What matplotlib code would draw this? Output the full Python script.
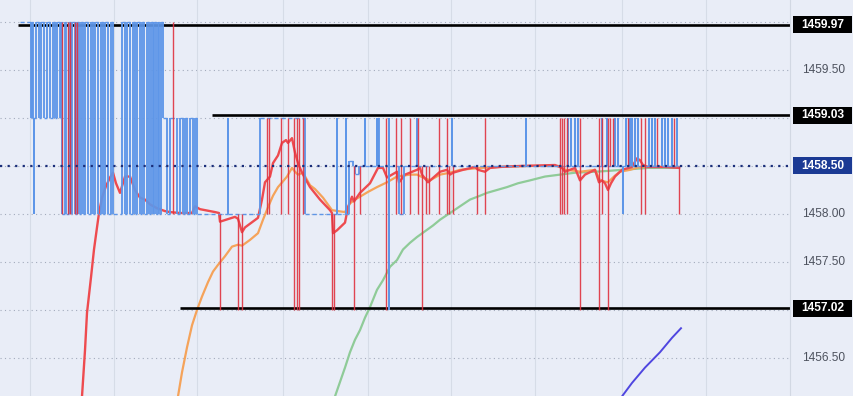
import numpy as np
import matplotlib.pyplot as plt
from matplotlib.patches import Rectangle
from matplotlib.transforms import blended_transform_factory

# tick stream (blue), time in chart units
blue_t = [20, 31, 32, 33, 34, 34.4, 36, 38.7, 41.3, 44, 47.3, 50, 52.7, 54.7, 57.3, 59.7, 61,
          62, 64.7, 66.3, 68.7, 70.7, 72.3, 74.7, 76.7, 78.7, 81.3, 83.3, 85.3, 88, 90.7, 93, 95.3,
          98, 100.7, 103.3, 105.3, 108, 110.7, 113,
          122.3, 125, 127.3, 130, 132.7, 135, 137.3, 140, 142.3, 144.3, 146.7, 149, 150.7, 152.7,
          154.3, 156, 157.7, 159.3, 161, 162.7,
          167, 170, 177, 180, 183, 185, 187, 190, 193, 195, 197,
          228, 228.3, 260, 305, 337, 337.3, 346, 346.3, 349, 353, 355, 359,
          365, 365.3, 377, 377.3, 378.5, 378.8, 389, 389.2, 389.4, 399, 404, 417, 417.3,
          452, 452.3, 526, 526.3,
          568, 568.3, 571, 571.3, 575, 575.3, 578, 578.3, 602, 602.3, 607, 607.3, 615, 615.3,
          618, 618.3, 623, 623.3, 626, 626.3, 629, 629.3, 630.5, 630.8, 632, 632.3, 635, 635.3,
          638, 638.3, 649, 649.3, 652, 652.3, 655, 655.3, 662, 662.3, 665, 665.3, 668, 668.3,
          672, 672.3, 677, 677.3, 680]
blue_p = [1460, 1459, 1460, 1459, 1458, 1459, 1460, 1459, 1460, 1459, 1460, 1459, 1460, 1459, 1460, 1459, 1460,
          1458, 1460, 1458, 1460, 1458, 1460, 1458, 1460, 1458, 1460, 1458, 1460, 1458, 1460, 1458, 1460,
          1458, 1460, 1458, 1460, 1458, 1460, 1458,
          1460, 1458, 1460, 1458, 1460, 1458, 1460, 1458, 1460, 1458, 1460, 1458, 1460, 1458,
          1460, 1458, 1460, 1458, 1460, 1459,
          1458, 1459, 1458, 1459, 1458, 1459, 1458, 1459, 1458, 1459, 1458,
          1459, 1458, 1459, 1458, 1459, 1458, 1459, 1458, 1458.55, 1458.5, 1458.42, 1458.5,
          1459, 1458.5, 1459, 1458.5, 1459, 1458.5, 1459, 1457, 1458.5, 1458, 1458.5, 1459, 1458.5,
          1459, 1458.5, 1459, 1458.5,
          1459, 1458.5, 1459, 1458.5, 1459, 1458.5, 1459, 1458.5, 1459, 1458.5, 1459, 1458.5, 1459, 1458.5,
          1459, 1458.5, 1458, 1458.5, 1459, 1458.5, 1459, 1458.5, 1459, 1458.5, 1459, 1458.5, 1459, 1458.5,
          1459, 1458.5, 1459, 1458.5, 1459, 1458.5, 1459, 1458.5, 1459, 1458.5, 1459, 1458.5, 1459, 1458.5,
          1459, 1458.5, 1459, 1458.5, 1458.5]

# trade spikes (red)
red_t = [62, 68, 70, 75, 77, 173,
         220, 238, 242, 267, 269, 281, 288, 294, 297, 299, 303,
         332, 334, 354, 360, 386, 396, 401, 410, 418, 422,
         426, 429, 439, 447, 449, 453, 477, 485,
         560, 562, 564, 567, 580, 599, 602, 608, 610, 613, 628, 641, 645, 657, 674, 679]
red_lo = [1458, 1458, 1458, 1458, 1458, 1458,
          1457, 1457, 1457, 1458, 1458, 1458, 1458, 1457, 1457, 1457, 1458,
          1457, 1457, 1457, 1458, 1457, 1458, 1458, 1458, 1458, 1457,
          1458, 1458, 1458, 1458, 1458, 1458, 1458, 1458,
          1458, 1458, 1458, 1458, 1457, 1457, 1458, 1457, 1458.5, 1458.5, 1458.5, 1458, 1458, 1458.5, 1458.5, 1458]
red_hi = [1460, 1460, 1460, 1460, 1460, 1460,
          1458, 1458, 1458, 1459, 1459, 1459, 1459, 1459, 1459, 1459, 1459,
          1458, 1458, 1458.5, 1458.5, 1459, 1459, 1459, 1459, 1459, 1458.5,
          1458.5, 1458.5, 1459, 1459, 1458.5, 1458.5, 1458.5, 1459,
          1459, 1459, 1459, 1459, 1459, 1459, 1459, 1459, 1459, 1459, 1459, 1459, 1459, 1459, 1459, 1458.5]

# moving averages
ma_red_t = [82, 85, 87, 91, 94, 97, 99, 102, 106, 110, 113, 116, 120, 125, 130, 135, 140, 145, 150, 157,
            165, 170, 180, 192, 195, 200, 205, 215, 219, 220, 235, 238, 242, 245, 258, 262, 265, 270, 273, 278,
            282, 286, 288, 292, 295, 298, 302, 310, 320, 330, 332, 333, 337, 345, 348, 352, 354, 360, 370, 378,
            383, 387, 397, 399, 405, 417, 420, 422, 428, 440, 447, 450, 453, 463, 475, 478, 485, 490, 500, 520,
            555, 562, 565, 570, 575, 580, 585, 595, 599, 602, 605, 608, 611, 615, 622, 632, 637, 640, 643, 648,
            665, 679]
ma_red = [1456.10, 1456.58, 1456.97, 1457.34, 1457.63, 1457.86, 1458.01, 1458.17, 1458.29, 1458.38,
          1458.43, 1458.32, 1458.22, 1458.39, 1458.39, 1458.25, 1458.17, 1458.15, 1458.10, 1458.06,
          1458.03, 1458.02, 1458.01, 1458.01, 1458.08, 1458.05, 1458.04, 1458.02, 1458.01, 1457.92,
          1457.97, 1457.95, 1457.81, 1457.86, 1457.96, 1458.15, 1458.33, 1458.39, 1458.53, 1458.61,
          1458.74, 1458.77, 1458.74, 1458.79, 1458.64, 1458.53, 1458.43, 1458.28, 1458.15, 1458.04,
          1458.01, 1457.80, 1457.83, 1457.91, 1458.07, 1458.18, 1458.13, 1458.22, 1458.32, 1458.48,
          1458.48, 1458.38, 1458.44, 1458.33, 1458.41, 1458.46, 1458.48, 1458.41, 1458.33, 1458.44,
          1458.46, 1458.41, 1458.43, 1458.46, 1458.49, 1458.46, 1458.44, 1458.48, 1458.49, 1458.50,
          1458.51, 1458.48, 1458.44, 1458.46, 1458.48, 1458.35, 1458.41, 1458.46, 1458.33, 1458.35,
          1458.32, 1458.25, 1458.32, 1458.39, 1458.46, 1458.49, 1458.58, 1458.56, 1458.51, 1458.49,
          1458.49, 1458.48]

ma_orange_t = [178, 182, 187, 192, 197, 202, 208, 213, 218, 225, 232, 238, 242, 250, 258, 263, 268, 273,
               278, 283, 287, 292, 295, 298, 303, 310, 315, 323, 332, 338, 345, 350, 355, 360, 368, 377,
               387, 397, 410, 417, 423, 430, 440, 450, 460, 480, 500, 530, 560, 565, 575, 580, 595, 600,
               608, 615, 620, 630, 640, 660, 679]
ma_orange = [1456.10, 1456.35, 1456.61, 1456.84, 1457.00, 1457.14, 1457.29, 1457.40, 1457.47, 1457.56,
             1457.66, 1457.68, 1457.67, 1457.73, 1457.80, 1457.94, 1458.07, 1458.19, 1458.28, 1458.34,
             1458.39, 1458.48, 1458.44, 1458.41, 1458.43, 1458.30, 1458.26, 1458.17, 1458.04, 1458.03,
             1458.02, 1458.11, 1458.15, 1458.18, 1458.23, 1458.28, 1458.33, 1458.39, 1458.41, 1458.41,
             1458.38, 1458.35, 1458.41, 1458.43, 1458.46, 1458.48, 1458.49, 1458.50, 1458.50, 1458.46,
             1458.45, 1458.44, 1458.46, 1458.35, 1458.33, 1458.40, 1458.44, 1458.46, 1458.49, 1458.49,
             1458.49]

ma_green_t = [335, 340, 345, 350, 355, 360, 365, 370, 377, 383, 390, 397, 403, 410, 417, 425, 433, 440,
              450, 460, 470, 480, 487, 497, 507, 518, 530, 545, 560, 575, 595, 610, 622, 635, 648, 665, 679]
ma_green = [1456.10, 1456.25, 1456.40, 1456.56, 1456.69, 1456.79, 1456.92, 1457.03, 1457.21, 1457.31,
            1457.45, 1457.52, 1457.63, 1457.70, 1457.76, 1457.82, 1457.88, 1457.94, 1458.01, 1458.08,
            1458.15, 1458.19, 1458.22, 1458.25, 1458.28, 1458.32, 1458.35, 1458.39, 1458.41, 1458.43,
            1458.44, 1458.45, 1458.46, 1458.47, 1458.48, 1458.48, 1458.48]

ma_purple_t = [622, 632, 645, 660, 672, 681]
ma_purple = [1456.10, 1456.24, 1456.40, 1456.56, 1456.71, 1456.81]

# horizontal levels
levels = [1459.97, 1459.03, 1457.02]
level_start = [18, 212, 180]
last_price = 1458.50
tick_labels = [1459.50, 1458.00, 1457.50, 1456.50]
time_grid = [30, 114, 197, 283, 368, 451, 535, 622, 706]

bg = '#E9EDF7'
fig = plt.figure(figsize=(8.54, 3.96), dpi=100)
fig.patch.set_facecolor(bg)
ax = fig.add_axes([0, 0, 790 / 854, 1])
ax.set_facecolor(bg)
ax.set_xlim(0, 790)
ax.set_ylim(1456.104, 1460.229)
ax.set_xticks([])
ax.set_yticks([])
for s in ['top', 'left', 'bottom']:
    ax.spines[s].set_visible(False)
ax.spines['right'].set_color('#D2D8E3')

for y in np.arange(1456.5, 1460.01, 0.5):
    ax.axhline(y, color='#A3ABBC', lw=0.8, ls=(0, (1, 3)), zorder=0)
for x in time_grid:
    ax.axvline(x, color='#D6DCE7', lw=0.8, zorder=0)

# moving averages
ax.plot(ma_green_t, ma_green, color='#8FCB98', lw=1.6, zorder=2)
ax.plot(ma_orange_t, ma_orange, color='#F5A35A', lw=1.6, zorder=2)
ax.plot(ma_red_t, ma_red, color='#EE4B4F', lw=1.7, zorder=2)
ax.plot(ma_purple_t, ma_purple, color='#4F46E0', lw=1.4, zorder=2)

# black level lines (under the ticks)
ax.hlines(levels, level_start, 790, color='black', lw=1.9, zorder=2.5)

# blue tick stream: solid jumps, dashed holds
bt = np.array(blue_t)
bp = np.array(blue_p)
ax.vlines(bt[1:], bp[:-1], bp[1:], color='#5E96E8', lw=1.4, alpha=0.95, zorder=3)
ax.hlines(bp[:-1], bt[:-1], bt[1:], color='#5E96E8', lw=1.0, ls=(0, (3, 2)), zorder=3)

# red spikes
ax.vlines(red_t, red_lo, red_hi, color='#E0323F', lw=1.0, alpha=0.9, zorder=3.5)

# last price line
ax.axhline(last_price, color='#1A2E7A', lw=1.6, ls=(0, (1, 2.4)), zorder=6)

# right price scale
tr = blended_transform_factory(ax.transAxes, ax.transData)
fnt = {'family': 'Liberation Sans', 'size': 8.6}
for v in tick_labels:
    ax.text(1.042, v, f'{v:.2f}', transform=tr, ha='center', va='center', color='#4D525E', **fnt)

box_x0 = 793 / 790
box_w = 59 / 790
box_h = 17 / 96
for v, c in zip(levels + [last_price], ['black', 'black', 'black', '#1B3A94']):
    ax.add_patch(Rectangle((box_x0, v - box_h / 2), box_w, box_h, transform=tr,
                           facecolor=c, edgecolor='none', clip_on=False, zorder=7))
    ax.text(box_x0 + box_w / 2, v, f'{v:.2f}', transform=tr, ha='center', va='center',
            color='white', weight='bold', zorder=8, **fnt)

plt.savefig('out.png', dpi=100, facecolor=bg)
